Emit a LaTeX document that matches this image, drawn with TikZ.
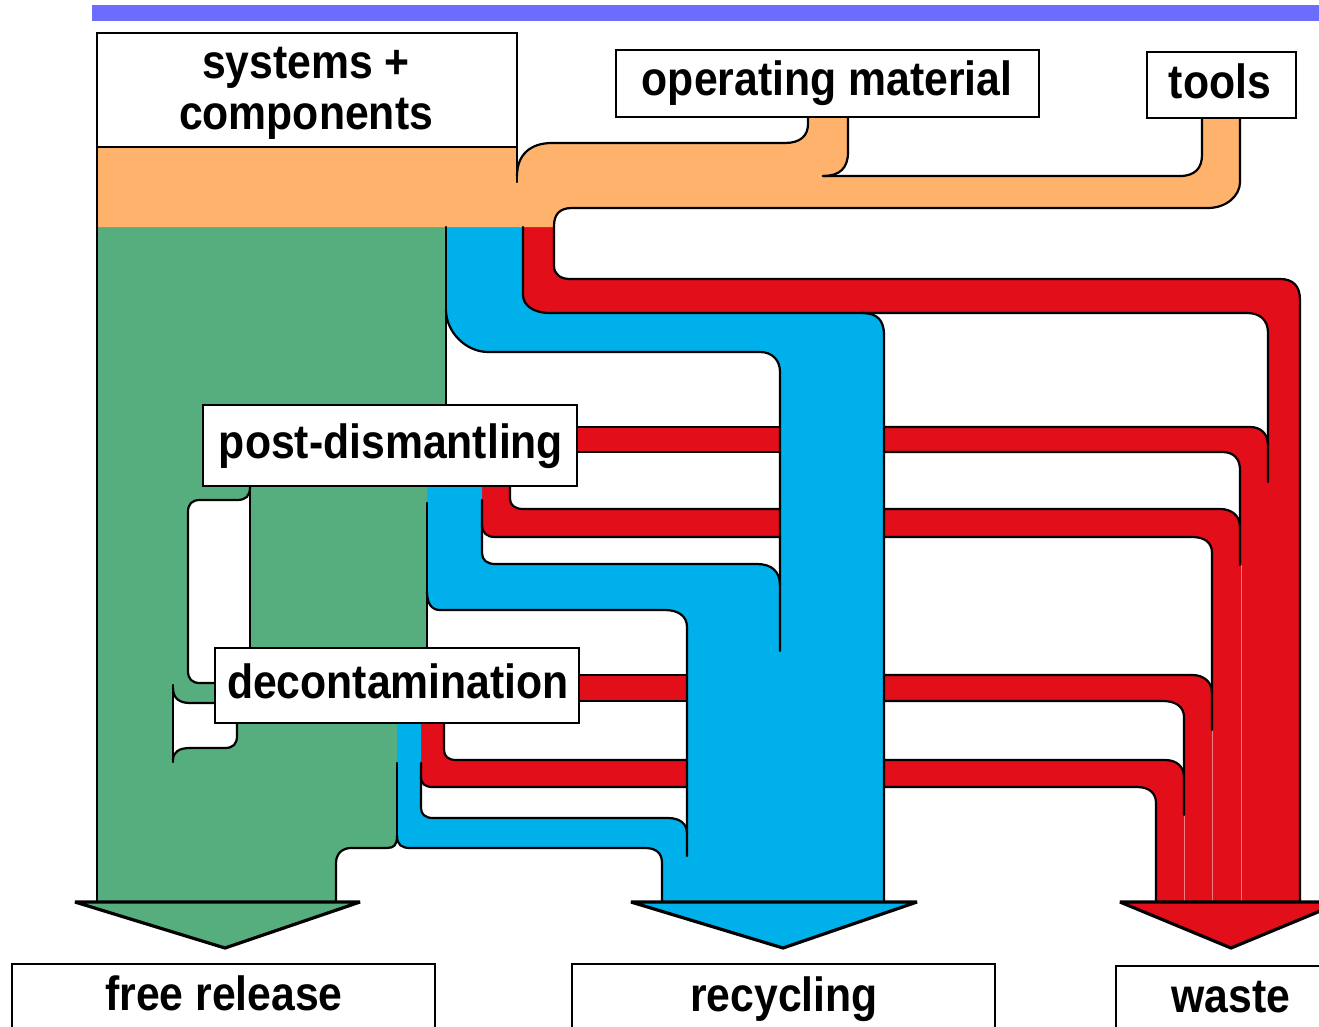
\documentclass[tikz,border=0pt]{standalone}
\usepackage{fontspec}
\newfontfamily\lblfont{Liberation Sans}[FakeStretch=0.89]
\definecolor{flowOrange}{RGB}{255,178,107}
\definecolor{flowGreen}{RGB}{86,174,126}
\definecolor{flowBlue}{RGB}{0,176,234}
\definecolor{flowRed}{RGB}{226,14,26}
\definecolor{barBlue}{RGB}{108,108,255}
\definecolor{seamRed}{RGB}{240,125,132}
\tikzset{
  edge/.style={draw=black, line width=2.2pt, line cap=round, line join=round},
  seam/.style={draw=seamRed, line width=0.7pt},
  headtri/.style={draw=black, line width=3.2pt, line join=miter, miter limit=2.5},
  box/.style={draw=black, fill=white, line width=2.6pt, inner sep=0pt, outer sep=0pt},
  lbl/.style={font=\lblfont\bfseries\fontsize{48}{56}\selectfont, anchor=base, inner sep=0pt}
}
\begin{document}
\begin{tikzpicture}[x=1pt,y=-1pt]
\useasboundingbox (0,0) rectangle (1319,1027);
\clip (0,0) rectangle (1319,1027);

% title bar
\fill[barBlue] (92,5) rectangle (1319,21);

% ---------- waste streams (red) ----------
\fill[flowRed] (523,227) -- (554,227) -- (554,266) .. controls (554,274) and (560,279) .. (570,279)
  -- (1280,279) .. controls (1293,279) and (1300,286) .. (1300,300) -- (1300,902) -- (1268,902)
  -- (1268,333) .. controls (1268,320) and (1260,313) .. (1247,313) -- (550,313)
  .. controls (533,313) and (523,305) .. (523,295) -- cycle;
\fill[flowRed] (577,427) -- (1250,427) .. controls (1261,427) and (1268,434) .. (1268,445)
  -- (1268,902) -- (1240,902) -- (1240,470) .. controls (1240,459) and (1234,452) .. (1222,452)
  -- (577,452) -- cycle;
\fill[flowRed] (482,486) -- (510,486) -- (510,499) .. controls (510,505) and (515,509) .. (523,509)
  -- (1220,509) .. controls (1232,509) and (1240,516) .. (1240,527) -- (1240,902) -- (1212,902)
  -- (1212,553) .. controls (1212,542) and (1204,537) .. (1192,537) -- (495,537)
  .. controls (487,537) and (482,533) .. (482,525) -- cycle;
\fill[flowRed] (579,675) -- (1192,675) .. controls (1204,675) and (1212,682) .. (1212,693)
  -- (1212,902) -- (1184,902) -- (1184,717) .. controls (1184,707) and (1176,701) .. (1163,701)
  -- (579,701) -- cycle;
\fill[flowRed] (421,723) -- (444,723) -- (444,750) .. controls (444,756) and (448,760) .. (456,760)
  -- (1165,760) .. controls (1177,760) and (1184,767) .. (1184,777) -- (1184,902) -- (1156,902)
  -- (1156,803) .. controls (1156,793) and (1149,787) .. (1137,787) -- (433,787)
  .. controls (425,787) and (421,784) .. (421,777) -- cycle;

% ---------- recycling streams (blue) ----------
\fill[flowBlue] (446,227) -- (523,227) -- (523,295) .. controls (523,305) and (533,313) .. (550,313)
  -- (862,313) .. controls (877,313) and (884,320) .. (884,335) -- (884,902) -- (780,902)
  -- (780,372) .. controls (780,360) and (772,352) .. (760,352) -- (488,352)
  .. controls (466,352) and (446,332) .. (446,310) -- cycle;
\fill[flowBlue] (427,486) -- (482,486) -- (482,553) .. controls (482,560) and (487,564) .. (495,564)
  -- (757,564) .. controls (772,564) and (780,572) .. (780,585) -- (780,902) -- (687,902)
  -- (687,627) .. controls (687,616) and (678,610) .. (665,610) -- (440,610)
  .. controls (432,610) and (427,605) .. (427,597) -- cycle;
\fill[flowBlue] (397,723) -- (421,723) -- (421,808) .. controls (421,814) and (425,818) .. (433,818)
  -- (668,818) .. controls (680,818) and (687,824) .. (687,833) -- (687,902) -- (662,902)
  -- (662,863) .. controls (662,853) and (656,848) .. (645,848) -- (410,848)
  .. controls (402,848) and (397,845) .. (397,836) -- cycle;

% ---------- free release stream (green) ----------
\fill[flowGreen] (97,227) -- (446,227) -- (446,487) -- (427,487) -- (427,723) -- (397,723)
  -- (397,836) .. controls (397,845) and (394,848) .. (387,848) -- (351,848)
  .. controls (342,848) and (336,854) .. (336,863) -- (336,902) -- (97,902) -- cycle;
\fill[white] (250,487) .. controls (250,496) and (246,500) .. (237,500) -- (200,500)
  .. controls (192,500) and (188,504) .. (188,512) -- (188,671) .. controls (188,679) and (192,683) .. (200,683)
  -- (250,683) -- cycle;
\fill[white] (173,688) .. controls (173,698) and (179,703) .. (190,703) -- (237,703) -- (237,736)
  .. controls (237,744) and (233,748) .. (225,748) -- (190,748) .. controls (179,748) and (173,752) .. (173,762)
  -- cycle;

% ---------- inputs (orange) ----------
\fill[flowOrange] (97,147) -- (517,147) -- (517,176) .. controls (517,155) and (530,143) .. (552,143)
  -- (785,143) .. controls (800,143) and (808,136) .. (808,124) -- (808,117) -- (848,117)
  -- (848,152) .. controls (848,168) and (840,176) .. (823,176) -- (1180,176)
  .. controls (1195,176) and (1202,168) .. (1202,155) -- (1202,118) -- (1240,118) -- (1240,182)
  .. controls (1240,196) and (1226,208) .. (1208,208) -- (572,208) .. controls (560,208) and (554,214) .. (554,226)
  -- (554,227) -- (97,227) -- cycle;

% faint seams between merged waste streams
\draw[seam] (1241,565) -- (1241,902);
\draw[seam] (1212,730) -- (1212,902);
\draw[seam] (1184,815) -- (1184,902);

% ---------- outlines ----------
\draw[edge] (97,147) -- (97,902);
\draw[edge] (517,147) -- (517,182);
\draw[edge] (517,176) .. controls (517,155) and (530,143) .. (552,143) -- (785,143)
  .. controls (800,143) and (808,136) .. (808,124) -- (808,117);
\draw[edge] (848,117) -- (848,152) .. controls (848,168) and (840,176) .. (823,176);
\draw[edge] (823,176) -- (1180,176) .. controls (1195,176) and (1202,168) .. (1202,155) -- (1202,118);
\draw[edge] (1240,118) -- (1240,182) .. controls (1240,196) and (1226,208) .. (1208,208) -- (572,208)
  .. controls (560,208) and (554,214) .. (554,226) -- (554,266) .. controls (554,274) and (560,279) .. (570,279)
  -- (1280,279) .. controls (1293,279) and (1300,286) .. (1300,300) -- (1300,902);
\draw[edge] (523,227) -- (523,295) .. controls (523,305) and (533,313) .. (550,313) -- (1247,313)
  .. controls (1260,313) and (1268,320) .. (1268,333) -- (1268,482);
\draw[edge] (862,313) .. controls (877,313) and (884,320) .. (884,335) -- (884,902);
\draw[edge] (446,227) -- (446,405);
\draw[edge] (446,310) .. controls (446,332) and (466,352) .. (488,352) -- (760,352)
  .. controls (772,352) and (780,360) .. (780,372) -- (780,651);
% post-dismantling branches
\draw[edge] (577,427) -- (780,427);
\draw[edge] (884,427) -- (1250,427) .. controls (1261,427) and (1268,434) .. (1268,445);
\draw[edge] (577,452) -- (780,452);
\draw[edge] (884,452) -- (1222,452) .. controls (1234,452) and (1240,459) .. (1240,470) -- (1240,565);
\draw[edge] (510,486) -- (510,499) .. controls (510,505) and (515,509) .. (523,509) -- (780,509);
\draw[edge] (884,509) -- (1220,509) .. controls (1232,509) and (1240,516) .. (1240,527);
\draw[edge] (482,500) -- (482,553) .. controls (482,560) and (487,564) .. (495,564) -- (757,564)
  .. controls (772,564) and (780,572) .. (780,585);
\draw[edge] (482,525) .. controls (482,533) and (487,537) .. (495,537) -- (780,537);
\draw[edge] (884,537) -- (1192,537) .. controls (1204,537) and (1212,542) .. (1212,553) -- (1212,730);
\draw[edge] (427,503) -- (427,648);
\draw[edge] (427,592) .. controls (427,604) and (432,610) .. (440,610) -- (665,610)
  .. controls (678,610) and (687,616) .. (687,627) -- (687,856);
% decontamination branches
\draw[edge] (579,675) -- (687,675);
\draw[edge] (884,675) -- (1192,675) .. controls (1204,675) and (1212,682) .. (1212,693);
\draw[edge] (579,701) -- (687,701);
\draw[edge] (884,701) -- (1163,701) .. controls (1176,701) and (1184,707) .. (1184,717) -- (1184,815);
\draw[edge] (444,723) -- (444,750) .. controls (444,756) and (448,760) .. (456,760) -- (687,760);
\draw[edge] (884,760) -- (1165,760) .. controls (1177,760) and (1184,767) .. (1184,777);
\draw[edge] (421,763) -- (421,808) .. controls (421,814) and (425,818) .. (433,818) -- (668,818)
  .. controls (680,818) and (687,824) .. (687,833);
\draw[edge] (421,777) .. controls (421,784) and (425,787) .. (433,787) -- (687,787);
\draw[edge] (884,787) -- (1137,787) .. controls (1149,787) and (1156,793) .. (1156,803) -- (1156,902);
\draw[edge] (397,763) -- (397,838);
\draw[edge] (397,836) .. controls (397,845) and (402,848) .. (410,848) -- (645,848)
  .. controls (656,848) and (662,853) .. (662,863) -- (662,902);
\draw[edge] (397,836) .. controls (397,845) and (394,848) .. (387,848) -- (351,848)
  .. controls (342,848) and (336,854) .. (336,863) -- (336,902);
% gaps left of the process boxes
\draw[edge] (250,487) -- (250,648);
\draw[edge] (250,487) .. controls (250,496) and (246,500) .. (237,500) -- (200,500)
  .. controls (192,500) and (188,504) .. (188,512) -- (188,671) .. controls (188,679) and (192,683) .. (200,683)
  -- (215,683);
\draw[edge] (173,685) -- (173,762);
\draw[edge] (173,688) .. controls (173,698) and (179,703) .. (190,703) -- (215,703);
\draw[edge] (237,723) -- (237,736) .. controls (237,744) and (233,748) .. (225,748) -- (190,748)
  .. controls (179,748) and (173,752) .. (173,760);

% ---------- arrow heads ----------
\draw[headtri, fill=flowGreen] (75,902) -- (360,902) -- (225,948) -- cycle;
\draw[headtri, fill=flowBlue] (631,902) -- (917,902) -- (783,948) -- cycle;
\draw[headtri, fill=flowRed] (1120,902) -- (1342,902) -- (1231,948) -- cycle;

% ---------- boxes ----------
\node[box, minimum width=420pt, minimum height=114pt] (sysbox) at (307,90) {};
\node[box, minimum width=423pt, minimum height=67pt] (opbox) at (827.5,83.5) {};
\node[box, minimum width=149pt, minimum height=66pt] (toolbox) at (1221.5,85) {};
\node[box, minimum width=374pt, minimum height=81pt] (postbox) at (390,445.5) {};
\node[box, minimum width=364pt, minimum height=75pt] (decbox) at (397,685.5) {};
\node[box, minimum width=423pt, minimum height=80pt] (freebox) at (223.5,1004) {};
\node[box, minimum width=423pt, minimum height=80pt] (recbox) at (783.5,1004) {};
\node[box, minimum width=224pt, minimum height=80pt] (wastebox) at (1228,1006) {};

% ---------- labels ----------
\node[lbl] (systxt) at (306,79) {systems +};
\node[lbl] (comptxt) at (306,130) {components};
\node[lbl] (optxt) at (827,96) {operating material};
\node[lbl] (tooltxt) at (1220,99) {tools};
\node[lbl] (posttxt) at (391,458) {post-dismantling};
\node[lbl] (dectxt) at (398,698) {decontamination};
\node[lbl] (freetxt) at (224,1010) {free release};
\node[lbl] (rectxt) at (784,1011) {recycling};
\node[lbl] (wastetxt) at (1231,1012) {waste};
\end{tikzpicture}
\end{document}
